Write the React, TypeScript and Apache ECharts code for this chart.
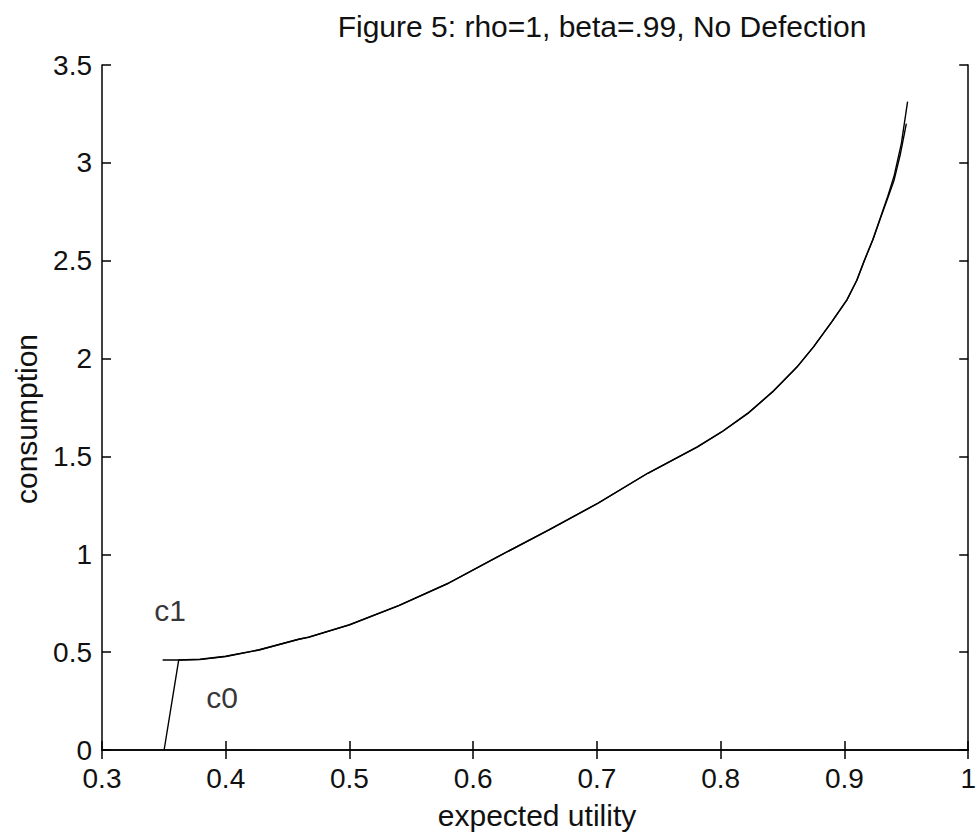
import React, { useEffect, useRef } from "react";
import * as echarts from "echarts";

const titleText = "Figure 5: rho=1, beta=.99, No Defection";
const xLabel = "expected utility";
const yLabel = "consumption";

const xTicks = [0.3, 0.4, 0.5, 0.6, 0.7, 0.8, 0.9, 1];
const yTicks = [0, 0.5, 1, 1.5, 2, 2.5, 3, 3.5];

const c1Data: [number, number][] = [
  [0.349, 0.46], [0.362, 0.46], [0.379, 0.462], [0.4, 0.478], [0.427, 0.511],
  [0.459, 0.566], [0.467, 0.576], [0.5, 0.639], [0.54, 0.738], [0.58, 0.852],
  [0.62, 0.988], [0.661, 1.124], [0.701, 1.261], [0.741, 1.414], [0.781, 1.548],
  [0.802, 1.63], [0.822, 1.72], [0.842, 1.83], [0.862, 1.959], [0.875, 2.06],
  [0.89, 2.19], [0.902, 2.3], [0.91, 2.4], [0.916, 2.5], [0.923, 2.61],
  [0.929, 2.72], [0.935, 2.83], [0.94, 2.93], [0.946, 3.1], [0.951, 3.313],
];

const c0Data: [number, number][] = [
  [0.3502, 0], [0.362, 0.46], [0.379, 0.464], [0.4, 0.479], [0.427, 0.512],
  [0.459, 0.566], [0.467, 0.577], [0.5, 0.64], [0.54, 0.739], [0.58, 0.853],
  [0.62, 0.988], [0.661, 1.125], [0.701, 1.262], [0.741, 1.414], [0.781, 1.549],
  [0.802, 1.631], [0.822, 1.721], [0.842, 1.831], [0.862, 1.96], [0.875, 2.06],
  [0.89, 2.19], [0.902, 2.3], [0.91, 2.4], [0.916, 2.5], [0.923, 2.607],
  [0.929, 2.715], [0.935, 2.82], [0.94, 2.91], [0.945, 3.04], [0.95, 3.2],
];

const curveLabels: { name: string; value: [number, number] }[] = [
  { name: "c1", value: [0.355, 0.715] },
  { name: "c0", value: [0.397, 0.266] },
];

const FONT = "'Liberation Sans', Arial, sans-serif";
const FS = 30;
const TFS = 28;

export default function App() {
  const ref = useRef<HTMLDivElement>(null);
  useEffect(() => {
    if (!ref.current) return;
    const chart = echarts.init(ref.current, null, { renderer: "svg" });
    const baseAxis = {
      type: "value" as const,
      axisLine: { show: true, lineStyle: { color: "#000", width: 1.5 } },
      axisTick: { show: true, inside: true, length: 9, lineStyle: { color: "#000", width: 1.5 } },
      splitLine: { show: false },
    };
    const xMin = xTicks[0];
    const xMax = xTicks[xTicks.length - 1];
    const yMin = yTicks[0];
    const yMax = yTicks[yTicks.length - 1];
    const lineSeries = (name: string, data: [number, number][]) => ({
      name,
      type: "line",
      data,
      showSymbol: false,
      symbol: "none",
      lineStyle: { color: "#000", width: 1.4 },
      silent: true,
    });
    chart.setOption({
      animation: false,
      backgroundColor: "#fff",
      textStyle: { fontFamily: FONT },
      grid: { left: 102, top: 65, right: 7, bottom: 86, containLabel: false },
      graphic: [
        {
          type: "text",
          x: 602,
          y: 26,
          style: {
            text: titleText,
            fontSize: FS,
            fontFamily: FONT,
            fill: "#111",
            textAlign: "center",
            textVerticalAlign: "middle",
          },
        },
        {
          type: "text",
          x: 537,
          y: 815,
          style: {
            text: xLabel,
            fontSize: FS,
            fontFamily: FONT,
            fill: "#111",
            textAlign: "center",
            textVerticalAlign: "middle",
          },
        },
        {
          type: "text",
          x: 26,
          y: 419,
          rotation: Math.PI / 2,
          style: {
            text: yLabel,
            fontSize: FS,
            fontFamily: FONT,
            fill: "#111",
            textAlign: "center",
            textVerticalAlign: "middle",
          },
        },
      ],
      xAxis: [
        {
          ...baseAxis,
          position: "bottom",
          min: xMin,
          max: xMax,
          interval: 0.1,
          axisLabel: {
            show: true,
            color: "#111",
            fontSize: TFS,
            fontFamily: FONT,
            margin: 14,
            formatter: (v: number) => String(Math.round(v * 10) / 10),
          },
        },
        {
          ...baseAxis,
          position: "top",
          min: xMin,
          max: xMax,
          interval: 0.1,
          axisLabel: { show: false },
        },
      ],
      yAxis: [
        {
          ...baseAxis,
          position: "left",
          min: yMin,
          max: yMax,
          interval: 0.5,
          axisLabel: {
            show: true,
            color: "#111",
            fontSize: TFS,
            fontFamily: FONT,
            margin: 10,
            formatter: (v: number) => String(v),
          },
        },
        {
          ...baseAxis,
          position: "right",
          min: yMin,
          max: yMax,
          interval: 0.5,
          axisLabel: { show: false },
        },
      ],
      series: [
        lineSeries("c1", c1Data),
        lineSeries("c0", c0Data),
        {
          name: "labels",
          type: "scatter",
          symbolSize: 0,
          data: curveLabels,
          label: {
            show: true,
            position: "inside",
            formatter: (p: any) => p.name,
            color: "#000",
            fontSize: FS,
            fontFamily: FONT,
          },
          silent: true,
        },
      ],
    });
    return () => chart.dispose();
  }, []);
  return (
    <div
      ref={ref}
      style={{ position: "fixed", left: 0, top: 0, width: 979, height: 836 }}
    />
  );
}
